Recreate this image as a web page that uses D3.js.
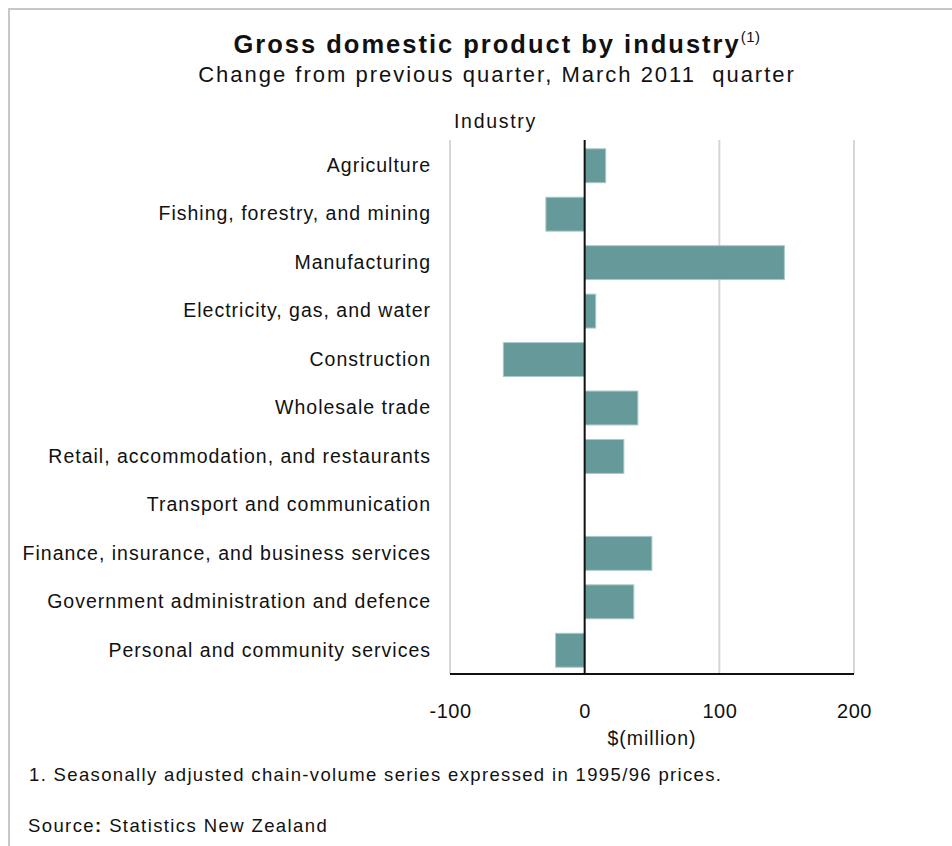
<!DOCTYPE html>
<html>
<head>
<meta charset="utf-8">
<script src="https://cdn.jsdelivr.net/npm/d3@7"></script>
<style>
  html, body { margin: 0; padding: 0; background: #fff; }
  svg { display: block; font-family: "Liberation Sans", Arial, sans-serif; }
</style>
</head>
<body>
<svg id="chart" width="952" height="846"></svg>
<script>
// Industries, top to bottom
const categories = [
  "Agriculture",
  "Fishing, forestry, and mining",
  "Manufacturing",
  "Electricity, gas, and water",
  "Construction",
  "Wholesale trade",
  "Retail, accommodation, and restaurants",
  "Transport and communication",
  "Finance, insurance, and business services",
  "Government administration and defence",
  "Personal and community services"
];

// Change from previous quarter, $(million)
const values = [15.6, -28.8, 148.3, 8.2, -60.4, 39.5, 29.1, 0, 49.9, 36.5, -21.6];

const xTicks = [-100, 0, 100, 200];

const svg = d3.select("#chart");
const W = 952, H = 846;
const plot = { left: 450, right: 854, top: 140, bottom: 674 };

// frame
svg.append("path")
  .attr("d", `M9,${H} L9,9 L${W},9`)
  .attr("fill", "none")
  .attr("stroke", "#c8c8c8")
  .attr("stroke-width", 2);

const x = d3.scaleLinear().domain([-100, 200]).range([plot.left, plot.right]);
const y = d3.scaleBand().domain(categories).range([plot.top + 2, plot.bottom])
  .paddingInner(0.3).paddingOuter(0.14);

// vertical gridlines
svg.append("g")
  .selectAll("line")
  .data(xTicks.filter(t => t !== 0))
  .join("line")
  .attr("x1", d => x(d)).attr("x2", d => x(d))
  .attr("y1", plot.top).attr("y2", plot.bottom)
  .attr("stroke", "#d6d6d6")
  .attr("stroke-width", 2);

// bars
svg.append("g")
  .selectAll("rect")
  .data(values.map((v, i) => ({ cat: categories[i], v })))
  .join("rect")
  .attr("x", d => x(Math.min(0, d.v)))
  .attr("width", d => Math.abs(x(d.v) - x(0)))
  .attr("y", d => y(d.cat))
  .attr("height", y.bandwidth())
  .attr("fill", "#669999")
  .attr("stroke", d => d.v === 0 ? "none" : "#a9c9c9")
  .attr("stroke-width", 1);

// zero line
svg.append("line")
  .attr("x1", x(0)).attr("x2", x(0))
  .attr("y1", plot.top).attr("y2", plot.bottom)
  .attr("stroke", "#111")
  .attr("stroke-width", 2);

// x axis
const xAxis = d3.axisBottom(x).tickValues(xTicks).tickSize(0).tickPadding(0)
  .tickFormat(d => String(d));
const gx = svg.append("g")
  .attr("transform", `translate(0,${plot.bottom})`)
  .call(xAxis);
gx.select(".domain").attr("stroke", "#111").attr("stroke-width", 2)
  .attr("d", `M${plot.left},0H${plot.right}`);
gx.selectAll(".tick text")
  .attr("y", 44)
  .attr("dy", null)
  .attr("font-size", 20)
  .attr("letter-spacing", "0.5px")
  .attr("fill", "#111")
  .attr("font-family", "Liberation Sans, Arial, sans-serif");

// category labels
const yAxis = d3.axisLeft(y).tickSize(0).tickPadding(0);
const gy = svg.append("g").attr("transform", "translate(431,0)").call(yAxis);
gy.select(".domain").remove();
gy.selectAll(".tick text")
  .attr("font-size", 19.5)
  .attr("fill", "#111")
  .attr("letter-spacing", "1px")
  .attr("font-family", "Liberation Sans, Arial, sans-serif");

// titles
const title = svg.append("text")
  .attr("x", 497).attr("y", 53)
  .attr("text-anchor", "middle")
  .attr("font-size", 25.5)
  .attr("font-weight", "bold")
  .attr("letter-spacing", "2px")
  .attr("fill", "#111");
title.append("tspan").text("Gross domestic product by industry");
title.append("tspan").attr("font-size", 15).attr("font-weight", "normal")
  .attr("letter-spacing", "0.5px")
  .attr("dy", -11).text("(1)");

svg.append("text")
  .attr("x", 497).attr("y", 82)
  .attr("text-anchor", "middle")
  .attr("font-size", 22)
  .attr("letter-spacing", "2px")
  .attr("fill", "#111")
  .text("Change from previous quarter, March 2011  quarter")
  .style("white-space", "pre");

svg.append("text")
  .attr("x", 454).attr("y", 128)
  .attr("font-size", 19.5)
  .attr("letter-spacing", "1.7px")
  .attr("fill", "#111")
  .text("Industry");

svg.append("text")
  .attr("x", (plot.left + plot.right) / 2).attr("y", 745)
  .attr("text-anchor", "middle")
  .attr("font-size", 19.5)
  .attr("letter-spacing", "1px")
  .attr("fill", "#111")
  .text("$(million)");

// notes
svg.append("text")
  .attr("x", 29).attr("y", 781)
  .attr("font-size", 18.5)
  .attr("letter-spacing", "1.35px")
  .attr("fill", "#111")
  .text("1. Seasonally adjusted chain-volume series expressed in 1995/96 prices.");

const src = svg.append("text")
  .attr("x", 28).attr("y", 832)
  .attr("font-size", 18.5)
  .attr("letter-spacing", "1.4px")
  .attr("fill", "#111");
src.append("tspan").text("Source");
src.append("tspan").attr("font-weight", "bold").text(":");
src.append("tspan").text(" Statistics New Zealand");
</script>
</body>
</html>
